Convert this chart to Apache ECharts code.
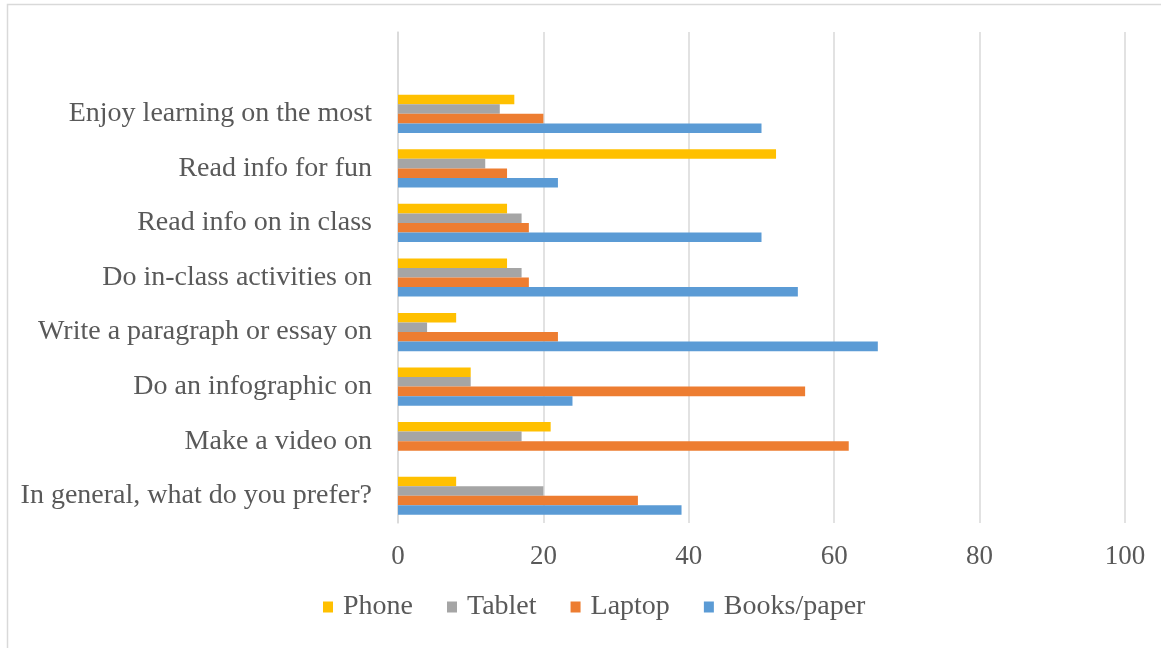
<!DOCTYPE html>
<html>
<head>
<meta charset="utf-8">
<script src="https://cdn.jsdelivr.net/npm/echarts@6/dist/echarts.min.js"></script>
<style>
html,body{margin:0;padding:0;background:#fff;}
#chart{width:1161px;height:648px;}
</style>
</head>
<body>
<div id="chart"></div>
<script>
// Categories listed bottom to top (ECharts category axis starts at bottom)
const categories = [
  'In general, what do you prefer?',
  'Make a video on',
  'Do an infographic on',
  'Write a paragraph or essay on',
  'Do in-class activities on',
  'Read info on in class',
  'Read info for fun',
  'Enjoy learning on the most',
  ''
];
const phone  = [8, 21, 10, 8, 15, 15, 52, 16, null];
const tablet = [20, 17, 10, 4, 17, 17, 12, 14, null];
const laptop = [33, 62, 56, 22, 18, 18, 15, 20, null];
const books  = [39, 0, 24, 66, 55, 50, 22, 50, null];
const xTicks = [0, 20, 40, 60, 80, 100];

const FONT = '"Liberation Serif", "DejaVu Serif", serif';
const TXT = '#595959';

const chart = echarts.init(document.getElementById('chart'));
const mk = (name, data, color) => ({
  name, type: 'bar', data,
  itemStyle: { color },
  barGap: '0%', barCategoryGap: '30%'
});
chart.setOption({
  animation: false,
  graphic: [{
    type: 'rect', shape: { x: 7.5, y: 4.5, width: 1200, height: 700 },
    style: { fill: 'none', stroke: '#d9d9d9', lineWidth: 1.5 }
  }],
  grid: { left: 398, right: 36, top: 32, bottom: 125, containLabel: false },
  legend: {
    data: ['Phone', 'Tablet', 'Laptop', 'Books/paper'],
    bottom: 22, left: 318,
    icon: 'rect', itemWidth: 10, itemHeight: 11, itemGap: 34,
    textStyle: { fontFamily: FONT, fontSize: 28, color: TXT, padding: [0, 0, 0, 5] }
  },
  xAxis: {
    type: 'value', min: 0, max: 100, interval: 20,
    axisLine: { show: false }, axisTick: { show: false },
    splitLine: { lineStyle: { color: '#d9d9d9', width: 1.5 } },
    axisLabel: { fontFamily: FONT, fontSize: 27, color: TXT, margin: 20,
      formatter: v => xTicks.includes(v) ? String(v) : '' }
  },
  yAxis: {
    type: 'category', data: categories,
    axisLine: { show: true, lineStyle: { color: '#d9d9d9', width: 1.5 } },
    axisTick: { show: false },
    axisLabel: { fontFamily: FONT, fontSize: 28, color: TXT, margin: 26 }
  },
  series: [
    mk('Phone', phone, '#FFC000'),
    mk('Tablet', tablet, '#A5A5A5'),
    mk('Laptop', laptop, '#ED7D31'),
    mk('Books/paper', books, '#5B9BD5')
  ]
});
</script>
</body>
</html>
